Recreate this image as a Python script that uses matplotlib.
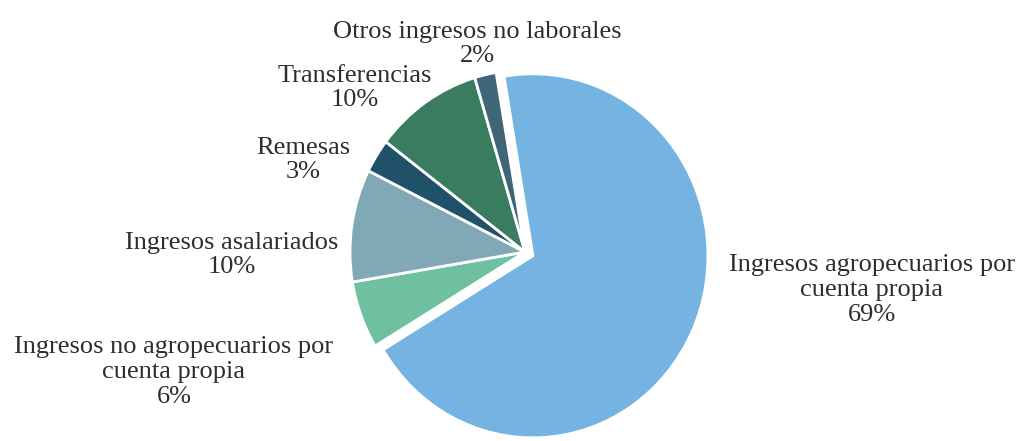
import numpy as np
import matplotlib.pyplot as plt

# Composición del ingreso (porcentaje)
categorias = ["Ingresos agropecuarios por\ncuenta propia",
              "Ingresos no agropecuarios por\ncuenta propia",
              "Ingresos asalariados",
              "Remesas",
              "Transferencias",
              "Otros ingresos no laborales"]
porcentajes = [69, 6, 10, 3, 10, 2]
colores = ["#74b3e2", "#6fc0a0", "#80a8b6", "#1f5169", "#3a7c60", "#3f6677"]
explode = [0.05, 0, 0, 0, 0, 0]

# posiciones de las etiquetas (pixeles, origen arriba a la izquierda)
pos_etiquetas = [(872, 290), (174, 372), (232, 255), (303, 160), (355, 88), (477, 44)]

W, H = 1034, 441
cx, cy = 525, 252      # centro del pastel en pixeles
rx, ry = 175, 182      # radios horizontal y vertical

fig = plt.figure(figsize=(W / 100, H / 100), dpi=100)
ax = fig.add_axes([0, 0, 1, 1])
ax.pie(porcentajes, colors=colores, explode=explode, startangle=99.5,
       counterclock=False,
       wedgeprops=dict(edgecolor="white", linewidth=2))
ax.set_aspect("auto")
ax.set_xlim(-cx / rx, (W - cx) / rx)
ax.set_ylim(-(H - cy) / ry, cy / ry)
ax.axis("off")

for cat, p, (x, y) in zip(categorias, porcentajes, pos_etiquetas):
    fig.text(x / W, 1 - y / H, f"{cat}\n{p}%", ha="center", va="center",
             multialignment="center", fontsize=19, color="#2e2e2e",
             family="Liberation Serif", linespacing=1.15)

fig.savefig("out.png", dpi=100, facecolor="white")
